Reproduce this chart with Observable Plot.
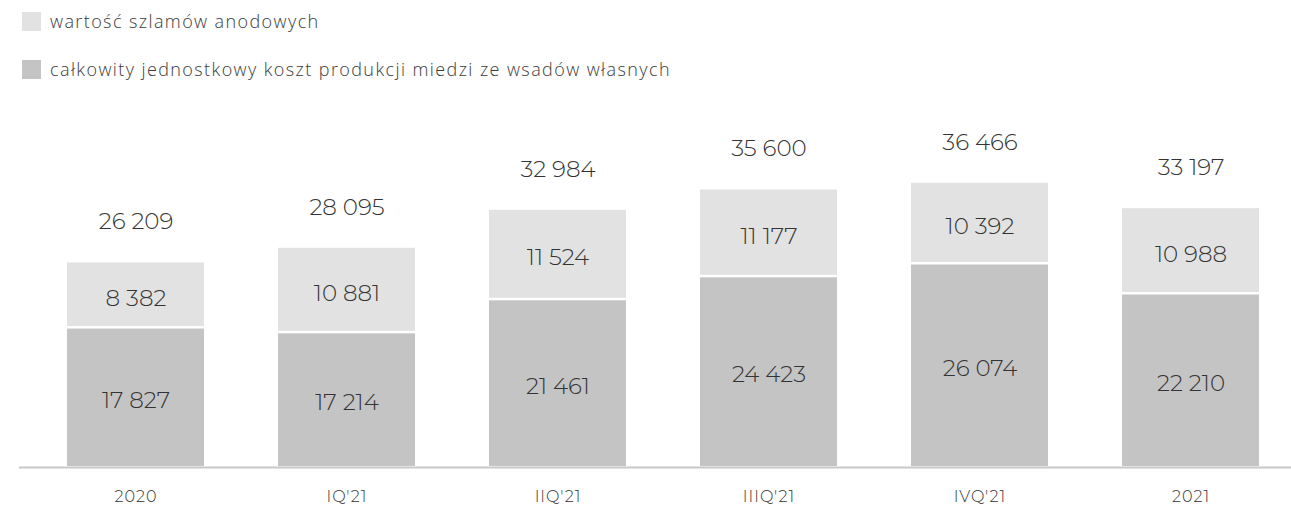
<!DOCTYPE html>
<html>
<head>
<meta charset="utf-8">
<script src="https://cdn.jsdelivr.net/npm/d3@7"></script>
<script src="https://cdn.jsdelivr.net/npm/@observablehq/plot@0.6"></script>
<style>
  html, body { margin: 0; padding: 0; background: #fff; }
  #wrap { position: relative; width: 1291px; height: 507px; }
  .legend { position: absolute; left: 22px; font-family: "Open Sans", "Noto Sans", sans-serif; font-weight: 300; font-size: 18px; letter-spacing: 1.4px; color: #3a3a3a; display: flex; align-items: center; height: 20px; white-space: nowrap; }
  .legend span.sw { display: inline-block; width: 19px; height: 19px; margin-right: 9px; }
  .xaxis text { letter-spacing: 1px; }
</style>
</head>
<body>
<div id="wrap">
  <div class="legend" style="top:11px"><span class="sw" style="background:#e2e2e2"></span>wartość szlamów anodowych</div>
  <div class="legend" style="top:59px"><span class="sw" style="background:#c4c4c4"></span>całkowity jednostkowy koszt produkcji miedzi ze wsadów własnych</div>
  <div id="chart"></div>
</div>
<script>
const categories = ["2020", "IQ'21", "IIQ'21", "IIIQ'21", "IVQ'21", "2021"];
const costValues = [17827, 17214, 21461, 24423, 26074, 22210];
const slimeValues = [8382, 10881, 11524, 11177, 10392, 10988];
const totals = [26209, 28095, 32984, 35600, 36466, 33197];
const seriesNames = ["całkowity jednostkowy koszt produkcji miedzi ze wsadów własnych", "wartość szlamów anodowych"];

const fmt = d3.formatLocale({thousands: " ", grouping: [3], decimal: ",", currency: ["", ""]}).format(",d");

const data = [];
categories.forEach((c, i) => {
  data.push({cat: c, series: seriesNames[0], value: costValues[i], y1: 0, y2: costValues[i]});
  data.push({cat: c, series: seriesNames[1], value: slimeValues[i], y1: costValues[i], y2: costValues[i] + slimeValues[i]});
});
const totalData = categories.map((c, i) => ({cat: c, total: totals[i]}));

const labelFont = "Montserrat, 'Open Sans', sans-serif";

const plot = Plot.plot({
  width: 1291,
  height: 507,
  marginTop: 0,
  marginBottom: 41,
  marginLeft: 19,
  marginRight: 0,
  x: {domain: categories, range: [30, 1296], paddingInner: 0.35, paddingOuter: 0.175, label: null},
  y: {domain: [0, 60000], range: [466, 0], axis: null},
  color: {domain: seriesNames, range: ["#c4c4c4", "#e2e2e2"]},
  style: {fontFamily: "'Open Sans', sans-serif", background: "white"},
  marks: [
    Plot.barY(data.filter(d => d.series === seriesNames[0]), {x: "cat", y1: "y1", y2: "y2", fill: "series", insetTop: 1}),
    Plot.barY(data.filter(d => d.series === seriesNames[1]), {x: "cat", y1: "y1", y2: "y2", fill: "series", insetBottom: 1.5}),
    Plot.text(data, {x: "cat", y: d => (d.y1 + d.y2) / 2, text: d => fmt(d.value), dy: 3, fontSize: 23, fill: "#333", fontWeight: 300, fontFamily: labelFont}),
    Plot.text(totalData, {x: "cat", y: "total", text: d => fmt(d.total), dy: -41, fontSize: 23, fill: "#333", fontWeight: 300, fontFamily: labelFont}),
    Plot.ruleY([0], {stroke: "#c8c8c8", strokeWidth: 2, dy: 1}),
    Plot.axisX({tickSize: 0, tickPadding: 24, fontSize: 16, fill: "#333", fontWeight: 300, label: null, fontFamily: labelFont, className: "xaxis"})
  ]
});
document.getElementById("chart").appendChild(plot);
</script>
</body>
</html>
